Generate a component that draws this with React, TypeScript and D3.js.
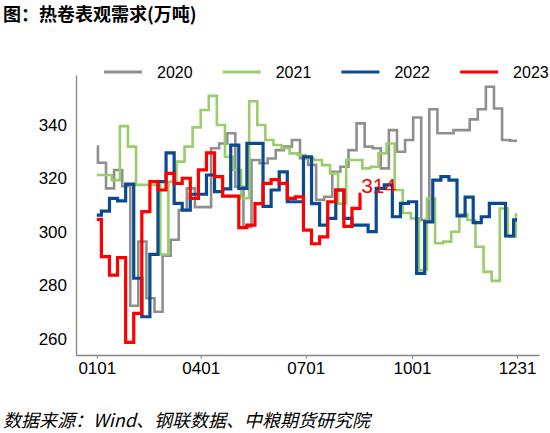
import React, { useRef, useEffect } from 'react';
import * as d3 from 'd3';

const years = ['2020', '2021', '2022', '2023'];
const colors = ['#8f8f8f', '#9bcd6a', '#0b4a91', '#ff0000'];
const lineWidths = [2.6, 2.6, 3.2, 3.2];

// weekly apparent demand of hot-rolled coil (10k t); index 0 holds until the first weekly update
const demand2020 = [
  331.8, 325.8, 316.2, 323.1, 317.0, 272.3, 296.3, 275.1, 270.1, 291.0,
  297.0, 308.1, 316.2, 309.2, 309.2, 331.2, 333.0, 336.8, 316.8, 301.9,
  326.8, 325.6, 327.4, 330.5, 331.8, 334.3, 327.5, 325.0, 311.9, 313.1,
  322.4, 324.3, 330.5, 340.5, 331.8, 331.2, 323.7, 338.0, 329.9, 334.3,
  342.7, 304.4, 345.8, 336.8, 336.8, 338.0, 338.0, 342.0, 345.8, 354.2,
  346.1, 334.3, 334.0,
];
const demand2021 = [
  321.2, 321.2, 319.3, 339.5, 331.8, 317.5, 317.5, 317.5, 291.5, 318.7,
  326.2, 331.8, 339.0, 345.5, 350.8, 339.9, 328.0, 323.1, 312.5, 348.8,
  339.9, 334.3, 332.4, 331.2, 329.3, 328.7, 327.4, 326.8, 324.9, 321.8,
  310.5, 326.8, 326.8, 323.7, 324.3, 329.3, 333.0, 315.6, 307.0, 305.0,
  285.7, 312.5, 295.7, 296.3, 300.0, 306.5, 304.4, 294.4, 285.0, 281.6,
  308.7, 298.1, 306.5,
];
const demand2022 = [
  306.2, 307.7, 312.5, 311.5, 317.8, 282.6, 268.2, 291.5, 318.7, 329.5,
  310.6, 308.1, 314.0, 314.0, 321.2, 315.0, 316.0, 332.4, 316.2, 333.0,
  333.0, 309.5, 315.6, 322.4, 311.2, 311.2, 328.0, 310.5, 302.5, 305.0,
  315.6, 305.0, 302.5, 302.5, 300.0, 316.2, 317.5, 305.6, 310.6, 311.2,
  284.4, 303.7, 319.3, 320.6, 319.3, 305.9, 312.9, 303.4, 305.6, 310.6,
  310.6, 298.4, 304.4,
];
const demand2023 = [
  304.6, 290.7, 283.8, 290.3, 258.6, 269.5, 307.5, 318.7, 315.6, 321.8,
  318.1, 320.0, 312.5, 323.1, 329.5, 320.6, 313.3, 313.3, 301.5, 302.5,
  310.5, 318.1, 319.5, 318.1, 312.5, 313.0, 300.6, 295.5, 298.1, 311.2,
  315.6, 302.0, 308.7, 314.0,
];
const seriesValues = [demand2020, demand2021, demand2022, demand2023];

// day of year (from Jan 1) of the first weekly update, and last date with data
const firstUpdateDay = [1, 6, 4, 4];
const lastDate = ['12-31', '12-31', '12-31', '08-18'];

const xTicks = ['01-01', '04-01', '07-01', '10-01', '12-31'];
const yTicks = [260, 280, 300, 320, 340];

const W = 550;
const H = 433;
const NUM_FONT = '"Liberation Sans", Arial, sans-serif';
const CJK_FONT = '"Noto Sans CJK SC", "Noto Sans", sans-serif';

const md = (s: string) => new Date(`2023-${s}T00:00:00`);

interface Point {
  date: Date;
  value: number;
}

const buildSteps = (values: number[], first: number, end: string): Point[] => {
  const start = md('01-01');
  const pts = values.map((value, i) => ({
    date: i === 0 ? start : d3.timeDay.offset(start, first + 7 * (i - 1)),
    value,
  }));
  pts.push({ date: md(end), value: values[values.length - 1] });
  return pts;
};

const DemandChart: React.FC = () => {
  const svgRef = useRef<SVGSVGElement>(null);

  useEffect(() => {
    if (!svgRef.current) return;
    const svg = d3.select(svgRef.current);
    svg.selectAll('*').remove();

    const x = d3
      .scaleTime()
      .domain([new Date(2022, 11, 14), new Date(2024, 0, 19)])
      .range([76, 539]);
    const y = d3.scaleLinear().domain([253.9, 358.6]).range([355, 75]);

    svg.append('rect').attr('width', W).attr('height', H).attr('fill', '#fff');

    // title
    svg
      .append('text')
      .attr('x', 3)
      .attr('y', 21)
      .attr('font-family', CJK_FONT)
      .attr('font-weight', 'bold')
      .attr('font-size', 18)
      .attr('fill', '#000')
      .text('图：热卷表观需求(万吨)');

    // axes
    const yAxis = svg
      .append('g')
      .attr('transform', 'translate(76,0)')
      .call(d3.axisLeft(y).tickValues(yTicks).tickSize(0).tickPadding(9));
    yAxis.select('.domain').attr('stroke', '#868686').attr('stroke-width', 1.3);
    yAxis
      .selectAll('text')
      .attr('font-family', NUM_FONT)
      .attr('font-size', 17)
      .attr('fill', '#000');

    const xAxis = svg
      .append('g')
      .attr('transform', 'translate(0,355)')
      .call(
        d3
          .axisBottom(x)
          .tickValues(xTicks.map(md))
          .tickFormat((d) => d3.timeFormat('%m%d')(d as Date))
          .tickSizeInner(4)
          .tickSizeOuter(0)
          .tickPadding(3)
      );
    xAxis.select('.domain').attr('stroke', '#868686').attr('stroke-width', 1.3);
    xAxis.selectAll('.tick line').attr('stroke', '#868686');
    xAxis
      .selectAll('text')
      .attr('font-family', NUM_FONT)
      .attr('font-size', 17)
      .attr('fill', '#000');

    // step lines
    const line = d3
      .line<Point>()
      .x((d) => x(d.date))
      .y((d) => y(d.value))
      .curve(d3.curveStepAfter);

    const series = seriesValues.map((vals, i) => buildSteps(vals, firstUpdateDay[i], lastDate[i]));

    series.forEach((pts, i) => {
      svg
        .append('path')
        .datum(pts)
        .attr('d', line)
        .attr('fill', 'none')
        .attr('stroke', colors[i])
        .attr('stroke-width', lineWidths[i]);
    });

    // latest value label for 2023
    const latest = series[3][series[3].length - 1];
    svg
      .append('text')
      .attr('x', x(latest.date))
      .attr('y', y(latest.value) - 1)
      .attr('font-family', NUM_FONT)
      .attr('font-size', 21)
      .attr('fill', '#ff0000')
      .text(d3.format('.0f')(latest.value));

    // legend
    const legend = svg
      .selectAll('.legend')
      .data(years)
      .enter()
      .append('g')
      .attr('class', 'legend')
      .attr('transform', (d, i) => `translate(${104 + i * 118.7},72)`);

    legend
      .append('line')
      .attr('x1', 0)
      .attr('x2', 38)
      .attr('stroke', (d, i) => colors[i])
      .attr('stroke-width', 3);

    legend
      .append('text')
      .attr('x', 53)
      .attr('y', 0)
      .attr('dy', '.36em')
      .attr('font-family', NUM_FONT)
      .attr('font-size', 16)
      .attr('fill', '#000')
      .text((d) => d);

    // source note
    svg
      .append('text')
      .attr('x', 3)
      .attr('y', 427)
      .attr('font-family', CJK_FONT)
      .attr('font-style', 'italic')
      .attr('font-size', 18)
      .attr('fill', '#000')
      .text('数据来源：Wind、钢联数据、中粮期货研究院');
  }, []);

  return (
    <svg
      ref={svgRef}
      width={W}
      height={H}
      style={{ position: 'absolute', left: 0, top: 0, display: 'block' }}
    />
  );
};

export default function App() {
  return <DemandChart />;
}
